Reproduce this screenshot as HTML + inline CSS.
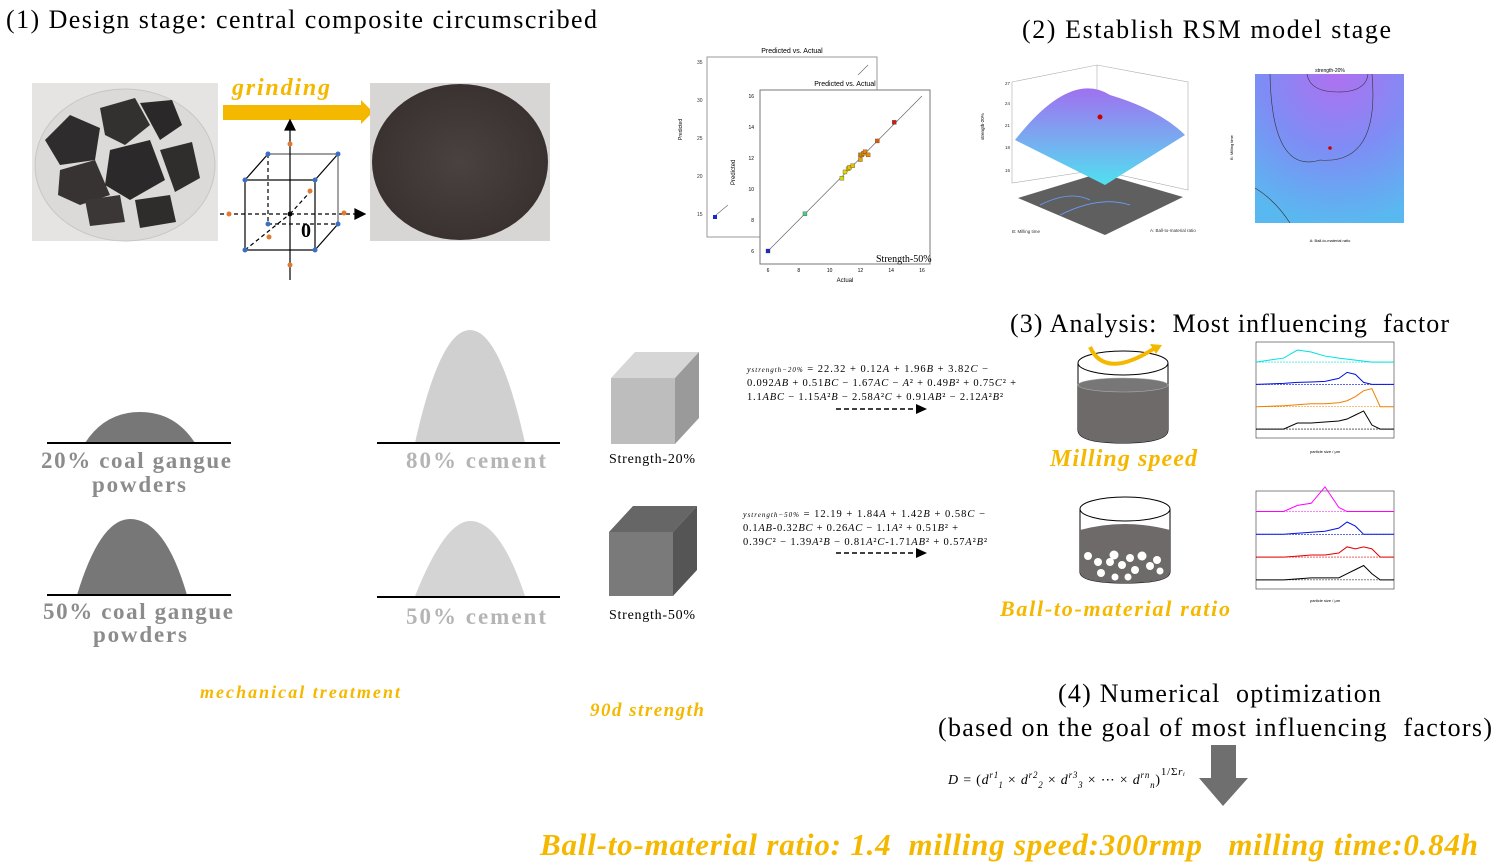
<!DOCTYPE html>
<html><head><meta charset="utf-8">
<style>
html,body{margin:0;padding:0;background:#fff;}
svg{display:block;}
.serif{font-family:"Liberation Serif",serif;}
.sans{font-family:"Liberation Sans",sans-serif;}
.or{fill:#f5b800;font-family:"Liberation Serif",serif;font-style:italic;font-weight:bold;}
.gl{fill:#8c8c8c;font-family:"Liberation Serif",serif;font-weight:bold;font-size:23px;}
.eq{font-family:"Liberation Serif",serif;font-size:10.5px;fill:#000;}
</style></head>
<body>
<svg id="fig" width="1501" height="868" viewBox="0 0 1501 868" xmlns="http://www.w3.org/2000/svg">
<defs>
<linearGradient id="surf" x1="0" y1="0" x2="0" y2="1"><stop offset="0" stop-color="#a070f0"/><stop offset="0.5" stop-color="#7aa8f0"/><stop offset="1" stop-color="#50e0f0"/></linearGradient>
<radialGradient id="cont" cx="0.55" cy="0" r="1"><stop offset="0" stop-color="#b070f0"/><stop offset="0.5" stop-color="#7f8cf5"/><stop offset="1" stop-color="#5ab8f0"/></radialGradient>
<radialGradient id="powder" cx="0.5" cy="0.5" r="0.5"><stop offset="0" stop-color="#4a4240"/><stop offset="1" stop-color="#3a3230"/></radialGradient>
</defs>

<!-- Section 1 -->
<text x="6" y="28" class="serif" font-size="26" textLength="591" lengthAdjust="spacing">(1) Design stage: central composite circumscribed</text>
<g>
<rect x="32" y="83" width="186" height="158" fill="#e6e4e2"/>
<ellipse cx="125" cy="165" rx="90" ry="76" fill="#dcdad8" stroke="#c8c6c4"/>
<polygon points="45,140 70,115 100,128 95,160 60,165" fill="#2e2c2c"/>
<polygon points="100,108 135,98 150,125 125,145 105,135" fill="#333030"/>
<polygon points="140,103 172,100 182,125 160,140" fill="#2a2828"/>
<polygon points="60,170 95,160 110,195 80,205 58,195" fill="#363332"/>
<polygon points="110,150 150,140 165,180 130,200 105,185" fill="#2b2929"/>
<polygon points="160,150 192,142 200,178 175,192" fill="#302d2d"/>
<polygon points="85,200 120,195 125,222 90,226" fill="#3a3736"/>
<polygon points="135,200 170,195 176,222 140,228" fill="#2f2c2c"/>
</g>
<g>
<text x="232" y="95" class="or" font-size="24" textLength="98" lengthAdjust="spacing">grinding</text>
<rect x="223" y="105" width="138" height="15" fill="#f5b800"/>
<polygon points="361,100 373,112 361,124" fill="#f5b800"/>
</g>
<g>
<rect x="370" y="83" width="180" height="158" fill="#d8d6d4"/>
<ellipse cx="460" cy="162" rx="88" ry="78" fill="url(#powder)"/>
</g>
<g stroke="#000" stroke-width="1.2" fill="none">
<rect x="245" y="180" width="70" height="70"/>
<polyline points="268,154 338,154 338,224" stroke="#666"/>
<line x1="245" y1="180" x2="268" y2="154"/><line x1="315" y1="180" x2="338" y2="154"/><line x1="315" y1="250" x2="338" y2="224"/>
<line x1="268" y1="154" x2="268" y2="224" stroke-dasharray="4,3"/>
<line x1="268" y1="224" x2="338" y2="224" stroke-dasharray="4,3"/>
<line x1="245" y1="250" x2="290" y2="214" stroke-dasharray="4,3"/>
<line x1="290" y1="214" x2="310" y2="192" stroke-dasharray="4,3"/>
<line x1="220" y1="214" x2="355" y2="214" stroke-dasharray="4,3"/>
<line x1="290" y1="280" x2="290" y2="125"/>
<polygon points="285,130 290,120 295,130" fill="#000"/>
<polygon points="355,209 365,214 355,219" fill="#000"/>
<g fill="#3a6fc4" stroke="none"><circle cx="245" cy="180" r="2.5"/><circle cx="315" cy="180" r="2.5"/><circle cx="245" cy="250" r="2.5"/><circle cx="315" cy="250" r="2.5"/><circle cx="268" cy="154" r="2.5"/><circle cx="338" cy="154" r="2.5"/><circle cx="268" cy="224" r="2.5"/><circle cx="338" cy="224" r="2.5"/></g>
<g fill="#e07a30" stroke="none"><circle cx="290" cy="144" r="2.5"/><circle cx="290" cy="265" r="2.5"/><circle cx="229" cy="214" r="2.5"/><circle cx="344" cy="213" r="2.5"/><circle cx="310" cy="191" r="2.5"/><circle cx="269" cy="237" r="2.5"/></g>
<circle cx="290" cy="214" r="2.5" fill="#000" stroke="none"/>
<text x="301" y="237" class="serif" font-size="20" font-weight="bold" fill="#000" stroke="none">0</text>
</g>

<!-- Hills -->
<g>
<path d="M85,443 Q105,412 140,412 Q175,412 195,443 Z" fill="#777"/>
<line x1="47" y1="443" x2="231" y2="443" stroke="#000" stroke-width="2"/>
<text x="41" y="468" class="gl" textLength="190" lengthAdjust="spacing">20% coal gangue</text>
<text x="92" y="492" class="gl" textLength="94" lengthAdjust="spacing">powders</text>
</g>
<g>
<path d="M415,443 Q440,330 470,330 Q500,330 525,443 Z" fill="#d0d0d0"/>
<line x1="377" y1="443" x2="560" y2="443" stroke="#000" stroke-width="2"/>
<text x="406" y="468" class="gl" style="fill:#b5b5b5" textLength="140" lengthAdjust="spacing">80% cement</text>
</g>
<g>
<path d="M77,595 Q100,519 130,519 Q165,519 187,595 Z" fill="#777"/>
<line x1="47" y1="595" x2="231" y2="595" stroke="#000" stroke-width="2"/>
<text x="43" y="619" class="gl" textLength="190" lengthAdjust="spacing">50% coal gangue</text>
<text x="93" y="642" class="gl" textLength="94" lengthAdjust="spacing">powders</text>
</g>
<g>
<path d="M415,596 Q445,521 470,521 Q500,521 525,596 Z" fill="#d4d4d4"/>
<line x1="377" y1="597" x2="560" y2="597" stroke="#000" stroke-width="2"/>
<text x="406" y="624" class="gl" style="fill:#b5b5b5" textLength="140" lengthAdjust="spacing">50% cement</text>
</g>
<text x="200" y="698" class="or" font-size="18" textLength="200" lengthAdjust="spacing">mechanical treatment</text>
<text x="590" y="716" class="or" font-size="19" textLength="114" lengthAdjust="spacing">90d strength</text>

<!-- Cubes -->
<g>
<polygon points="611,378 635,352 699,352 675,378" fill="#d6d6d6"/>
<polygon points="675,378 699,352 699,418 675,444" fill="#9a9a9a"/>
<rect x="611" y="378" width="64" height="66" fill="#bdbdbd"/>
<text x="609" y="463" class="serif" font-size="14" textLength="86" lengthAdjust="spacing">Strength-20%</text>
</g>
<g>
<polygon points="609,532 633,506 697,506 673,532" fill="#666"/>
<polygon points="673,532 697,506 697,570 673,596" fill="#555"/>
<rect x="609" y="532" width="64" height="64" fill="#7a7a7a"/>
<text x="609" y="619" class="serif" font-size="14" textLength="86" lengthAdjust="spacing">Strength-50%</text>
</g>

<!-- Predicted vs actual -->
<g>
<rect x="707" y="57" width="170" height="180" fill="#fff" stroke="#999"/>
<text x="792" y="53" class="sans" font-size="7" text-anchor="middle">Predicted vs. Actual</text>
<text x="682" y="140" class="sans" font-size="5" transform="rotate(-90 682 140)">Predicted</text>
<g class="sans" font-size="5" fill="#333"><text x="697" y="64">35</text><text x="697" y="102">30</text><text x="697" y="140">25</text><text x="697" y="178">20</text><text x="697" y="216">15</text></g>
<rect x="713" y="215" width="4" height="4" fill="#1a2ad0"/>
<line x1="716" y1="215" x2="728" y2="205" stroke="#666" stroke-width="0.6"/>
<line x1="858" y1="75" x2="868" y2="65" stroke="#666" stroke-width="0.6"/>
</g>
<g id="scatter">
<rect x="760" y="90" width="170" height="174" fill="#fff" stroke="#777"/>
<text x="845" y="86" class="sans" font-size="7" text-anchor="middle">Predicted vs. Actual</text>
<text x="845" y="282" class="sans" font-size="6" text-anchor="middle">Actual</text>
<text x="735" y="185" class="sans" font-size="6" transform="rotate(-90 735 185)">Predicted</text>
<text x="876" y="262" class="serif" font-size="10">Strength-50%</text>
</g>

<!-- Section 2 -->
<text x="1022" y="38" class="serif" font-size="26" textLength="369" lengthAdjust="spacing">(2) Establish RSM model stage</text>
<g>
<polyline points="1012,82 1097,65 1188,82 1188,190 1097,170 1012,183 1012,82" fill="none" stroke="#aaa" stroke-width="0.6"/>
<line x1="1097" y1="65" x2="1097" y2="170" stroke="#aaa" stroke-width="0.6"/>
<polygon points="1018,198 1100,173 1183,197 1105,235" fill="#5f5f5f"/>
<path d="M1015,140 Q1070,70 1110,95 Q1160,110 1185,135 L1105,185 Z" fill="url(#surf)"/>
<path d="M1040,205 Q1070,190 1090,200 M1060,215 Q1100,195 1130,205" stroke="#6aa0ff" fill="none" stroke-width="0.8"/>
<circle cx="1100" cy="117" r="2.5" fill="#c00"/>
<g class="sans" font-size="4.5" fill="#333"><text x="1005" y="85">27</text><text x="1005" y="105">24</text><text x="1005" y="127">21</text><text x="1005" y="149">18</text><text x="1005" y="172">15</text><text x="1012" y="233">B: Milling time</text><text x="1150" y="232">A: Ball-to-material ratio</text></g>
<text x="984" y="140" class="sans" font-size="4.5" transform="rotate(-90 984 140)">strength-20%</text>
</g>
<g>
<rect x="1255" y="74" width="149" height="149" fill="url(#cont)"/>
<path d="M1270,74 Q1272,175 1320,160 Q1380,165 1372,74" fill="none" stroke="#333" stroke-width="0.6"/>
<path d="M1307,74 Q1310,92 1338,92 Q1366,92 1368,74" fill="none" stroke="#333" stroke-width="0.6"/>
<path d="M1255,188 Q1275,200 1290,223" fill="none" stroke="#333" stroke-width="0.6"/>
<circle cx="1330" cy="148" r="1.8" fill="#c00"/>
<text x="1330" y="72" class="sans" font-size="5" text-anchor="middle">strength-20%</text>
<text x="1330" y="242" class="sans" font-size="4" text-anchor="middle">A: Ball-to-material ratio</text>
<text x="1233" y="160" class="sans" font-size="4" transform="rotate(-90 1233 160)">B: Milling time</text>
</g>

<!-- Section 3 -->
<text x="1010" y="332" class="serif" font-size="26" textLength="439" lengthAdjust="spacing">(3) Analysis:&#160; Most influencing&#160; factor</text>
<g>
<path d="M1078,363 L1078,430 Q1078,443 1122,443 Q1168,443 1168,430 L1168,363" fill="none" stroke="#000"/>
<path d="M1078,385 Q1122,372 1168,385 L1168,430 Q1168,443 1122,443 Q1078,443 1078,430 Z" fill="#6e6a6a"/>
<ellipse cx="1123" cy="385" rx="45" ry="7" fill="#777" stroke="#aaa" stroke-width="0.6"/>
<ellipse cx="1123" cy="363" rx="45" ry="12" fill="none" stroke="#000"/>
<path d="M1090,347 Q1105,380 1155,348" fill="none" stroke="#f5b800" stroke-width="4"/>
<polygon points="1150,344 1162,345 1156,354" fill="#f5b800"/>
<text x="1050" y="466" class="or" font-size="24" textLength="147" lengthAdjust="spacing">Milling speed</text>
</g>
<g>
<path d="M1080,509 L1080,572 Q1080,583 1125,583 Q1170,583 1170,572 L1170,509" fill="none" stroke="#000"/>
<path d="M1080,530 Q1125,518 1170,530 L1170,572 Q1170,583 1125,583 Q1080,583 1080,572 Z" fill="#6e6a6a"/>
<ellipse cx="1125" cy="509" rx="45" ry="12" fill="none" stroke="#000"/>
<g fill="#fff"><circle cx="1088" cy="556" r="4"/><circle cx="1098" cy="562" r="4"/><circle cx="1101" cy="573" r="4"/><circle cx="1110" cy="562" r="4"/><circle cx="1114" cy="555" r="4.5"/><circle cx="1122" cy="565" r="4"/><circle cx="1130" cy="558" r="4"/><circle cx="1135" cy="570" r="4"/><circle cx="1142" cy="556" r="4.5"/><circle cx="1150" cy="566" r="4"/><circle cx="1157" cy="560" r="4"/><circle cx="1115" cy="577" r="3.5"/><circle cx="1128" cy="577" r="3.5"/><circle cx="1160" cy="571" r="3.5"/></g>
<text x="1000" y="616" class="or" font-size="22" textLength="230" lengthAdjust="spacing">Ball-to-material ratio</text>
</g>
<g id="psd1">
<rect x="1256" y="342" width="138" height="96" fill="#fff" stroke="#333" stroke-width="0.6"/>
<text x="1310" y="453" class="sans" font-size="4">particle size / μm</text>
</g>
<g id="psd2">
<rect x="1256" y="491" width="138" height="98" fill="#fff" stroke="#333" stroke-width="0.6"/>
<text x="1310" y="602" class="sans" font-size="4">particle size / μm</text>
</g>

<!-- Equations -->
<g>
<text x="747" y="372" class="eq" textLength="241" lengthAdjust="spacing"><tspan font-style="italic" font-size="8">y<tspan font-size="7">strength−20%</tspan></tspan> = 22.32 + 0.12<tspan font-style="italic">A</tspan> + 1.96<tspan font-style="italic">B</tspan> + 3.82<tspan font-style="italic">C</tspan> −</text>
<text x="747" y="386" class="eq" textLength="269" lengthAdjust="spacing">0.092<tspan font-style="italic">AB</tspan> + 0.51<tspan font-style="italic">BC</tspan> − 1.67<tspan font-style="italic">AC</tspan> − <tspan font-style="italic">A</tspan>² + 0.49<tspan font-style="italic">B</tspan>² + 0.75<tspan font-style="italic">C</tspan>² +</text>
<text x="747" y="400" class="eq" textLength="256" lengthAdjust="spacing">1.1<tspan font-style="italic">ABC</tspan> − 1.15<tspan font-style="italic">A</tspan>²<tspan font-style="italic">B</tspan> − 2.58<tspan font-style="italic">A</tspan>²<tspan font-style="italic">C</tspan> + 0.91<tspan font-style="italic">AB</tspan>² − 2.12<tspan font-style="italic">A</tspan>²<tspan font-style="italic">B</tspan>²</text>
<line x1="836" y1="409" x2="916" y2="409" stroke="#000" stroke-width="1.5" stroke-dasharray="5,3"/>
<polygon points="916,404 927,409 916,414" fill="#000"/>
</g>
<g>
<text x="743" y="517" class="eq" textLength="242" lengthAdjust="spacing"><tspan font-style="italic" font-size="8">y<tspan font-size="7">strength−50%</tspan></tspan> = 12.19 + 1.84<tspan font-style="italic">A</tspan> + 1.42<tspan font-style="italic">B</tspan> + 0.58<tspan font-style="italic">C</tspan> −</text>
<text x="743" y="531" class="eq" textLength="215" lengthAdjust="spacing">0.1<tspan font-style="italic">AB</tspan>-0.32<tspan font-style="italic">BC</tspan> + 0.26<tspan font-style="italic">AC</tspan> − 1.1<tspan font-style="italic">A</tspan>² + 0.51<tspan font-style="italic">B</tspan>² +</text>
<text x="743" y="545" class="eq" textLength="244" lengthAdjust="spacing">0.39<tspan font-style="italic">C</tspan>² − 1.39<tspan font-style="italic">A</tspan>²<tspan font-style="italic">B</tspan> − 0.81<tspan font-style="italic">A</tspan>²<tspan font-style="italic">C</tspan>-1.71<tspan font-style="italic">AB</tspan>² + 0.57<tspan font-style="italic">A</tspan>²<tspan font-style="italic">B</tspan>²</text>
<line x1="836" y1="553" x2="916" y2="553" stroke="#000" stroke-width="1.5" stroke-dasharray="5,3"/>
<polygon points="916,548 927,553 916,558" fill="#000"/>
</g>

<!-- Section 4 -->
<text x="1058" y="702" class="serif" font-size="26" textLength="323" lengthAdjust="spacing">(4) Numerical&#160; optimization</text>
<text x="938" y="736" class="serif" font-size="26" textLength="554" lengthAdjust="spacing">(based on the goal of most influencing&#160; factors)</text>
<text x="948" y="784" class="serif" font-size="14" font-style="italic" textLength="237" lengthAdjust="spacing">D <tspan font-style="normal">= (</tspan>d<tspan font-size="9" dy="-6">r1</tspan><tspan font-size="9" dy="10">1</tspan><tspan dy="-4" font-style="normal"> × </tspan>d<tspan font-size="9" dy="-6">r2</tspan><tspan font-size="9" dy="10">2</tspan><tspan dy="-4" font-style="normal"> × </tspan>d<tspan font-size="9" dy="-6">r3</tspan><tspan font-size="9" dy="10">3</tspan><tspan dy="-4" font-style="normal"> × ⋯ × </tspan>d<tspan font-size="9" dy="-6">rn</tspan><tspan font-size="9" dy="10">n</tspan><tspan dy="-4" font-style="normal">)</tspan><tspan font-size="11" dy="-9" font-style="normal">1/Σ</tspan><tspan font-size="11">rᵢ</tspan></text>
<polygon points="1211,745 1236,745 1236,778 1248,778 1223,806 1199,778 1211,778" fill="#6f6f6f"/>
<text x="540" y="855" class="or" font-size="31" textLength="938" lengthAdjust="spacing">Ball-to-material ratio: 1.4&#160; milling speed:300rmp&#160;&#160; milling time:0.84h</text>
</svg>

<script>
// Predicted vs Actual data (Strength-50%)
const actualVals = [6, 8.4, 10.8, 11.0, 11.2, 11.3, 11.5, 12.0, 12.0, 12.1, 12.2, 12.3, 12.5, 13.1, 14.2];
const predictedVals = [6, 8.4, 10.7, 11.1, 11.3, 11.4, 11.5, 11.9, 12.2, 12.2, 12.3, 12.4, 12.2, 13.1, 14.3];
const xTicks = [6, 8, 10, 12, 14, 16];
const yTicks = [6, 8, 10, 12, 14, 16];
// particle size distribution curves (log10 size, relative height)
const psdSizes = [-1, 0, 0.5, 1, 1.5, 2, 2.3, 2.6, 2.9, 3.2, 3.5, 4];
const psdTop1 = [[0,0,0.3,0.3,0.35,0.4,0.5,0.7,0.9,0.2,0,0],[0,0.05,0.1,0.15,0.15,0.2,0.3,0.5,0.8,0.9,0,0],[0,0.05,0.1,0.12,0.15,0.3,0.6,0.5,0.1,0,0,0],[0,0.2,0.6,0.5,0.3,0.2,0.15,0.1,0.05,0,0,0]];
const psdTop2 = [[0,0,0.05,0.1,0.1,0.1,0.3,0.5,0.7,0.3,0,0],[0,0,0.05,0.1,0.1,0.2,0.5,0.4,0.5,0.4,0,0],[0,0,0.05,0.1,0.15,0.3,0.6,0.4,0,0,0,0],[0,0,0.3,0.4,1.2,0.2,0,0,0,0,0,0]];
const psdColors1 = ["#000","#f08000","#0010e0","#00e0e0"];
const psdColors2 = ["#000","#e00000","#0010e0","#ff00ff"];

const NS = "http://www.w3.org/2000/svg";
const sc = document.getElementById("scatter");
const xS = v => 768 + (v - 6) / 10 * 154;
const yS = v => 251 - (v - 6) / 10 * 155;
function colorFor(v){const t=Math.max(0,Math.min(1,(v-6)/8.4));const stops=[[30,40,210],[40,200,200],[120,210,40],[230,220,0],[230,110,0],[210,20,20]];const i=Math.min(4,Math.floor(t*5));const f=t*5-i;const a=stops[i],b=stops[i+1];return `rgb(${a.map((c,k)=>Math.round(c+(b[k]-c)*f)).join(",")})`;}
const diag = document.createElementNS(NS,"line");
diag.setAttribute("x1",xS(6));diag.setAttribute("y1",yS(6));diag.setAttribute("x2",xS(16));diag.setAttribute("y2",yS(16));
diag.setAttribute("stroke","#666");diag.setAttribute("stroke-width","0.7");


sc.appendChild(diag);
xTicks.forEach(t=>{const tx=document.createElementNS(NS,"text");tx.setAttribute("x",xS(t));tx.setAttribute("y",272);tx.setAttribute("font-size","5");tx.setAttribute("text-anchor","middle");tx.setAttribute("font-family","Liberation Sans, sans-serif");tx.textContent=t;


sc.appendChild(tx);});
yTicks.forEach(t=>{const tx=document.createElementNS(NS,"text");tx.setAttribute("x",754);tx.setAttribute("y",yS(t)+2);tx.setAttribute("font-size","5");tx.setAttribute("text-anchor","end");tx.setAttribute("font-family","Liberation Sans, sans-serif");tx.textContent=t;


sc.appendChild(tx);});
actualVals.forEach((a,i)=>{const p=predictedVals[i];const r=document.createElementNS(NS,"rect");r.setAttribute("x",xS(a)-2);r.setAttribute("y",yS(p)-2);r.setAttribute("width",4);r.setAttribute("height",4);r.setAttribute("fill",colorFor(p));r.setAttribute("stroke","#333");r.setAttribute("stroke-width","0.3");


sc.appendChild(r);});

function drawPsd(id, x0, y0, w, h, data, colors){
  const g=document.getElementById(id);
  const n=data.length;const band=h/(n+0.3);
  const px=v=>x0+(v+1)/5*w;
  data.forEach((row,k)=>{
    const base=y0+h-band*(k+0.4);
    const bl=document.createElementNS(NS,"line");bl.setAttribute("x1",x0);bl.setAttribute("x2",x0+w);bl.setAttribute("y1",base);bl.setAttribute("y2",base);bl.setAttribute("stroke",colors[k]);bl.setAttribute("stroke-width","0.6");bl.setAttribute("stroke-dasharray","2,1");
    
    
    g.appendChild(bl);
    const pts=psdSizes.map((s,i)=>px(s)+","+(base-row[i]*band*0.9)).join(" ");
    const pl=document.createElementNS(NS,"polyline");pl.setAttribute("points",pts);pl.setAttribute("fill","none");pl.setAttribute("stroke",colors[k]);pl.setAttribute("stroke-width","1");
    
    
    g.appendChild(pl);
  });
}
drawPsd("psd1",1256,342,138,96,psdTop1,psdColors1);
drawPsd("psd2",1256,491,138,98,psdTop2,psdColors2);
</script>
</body></html>
